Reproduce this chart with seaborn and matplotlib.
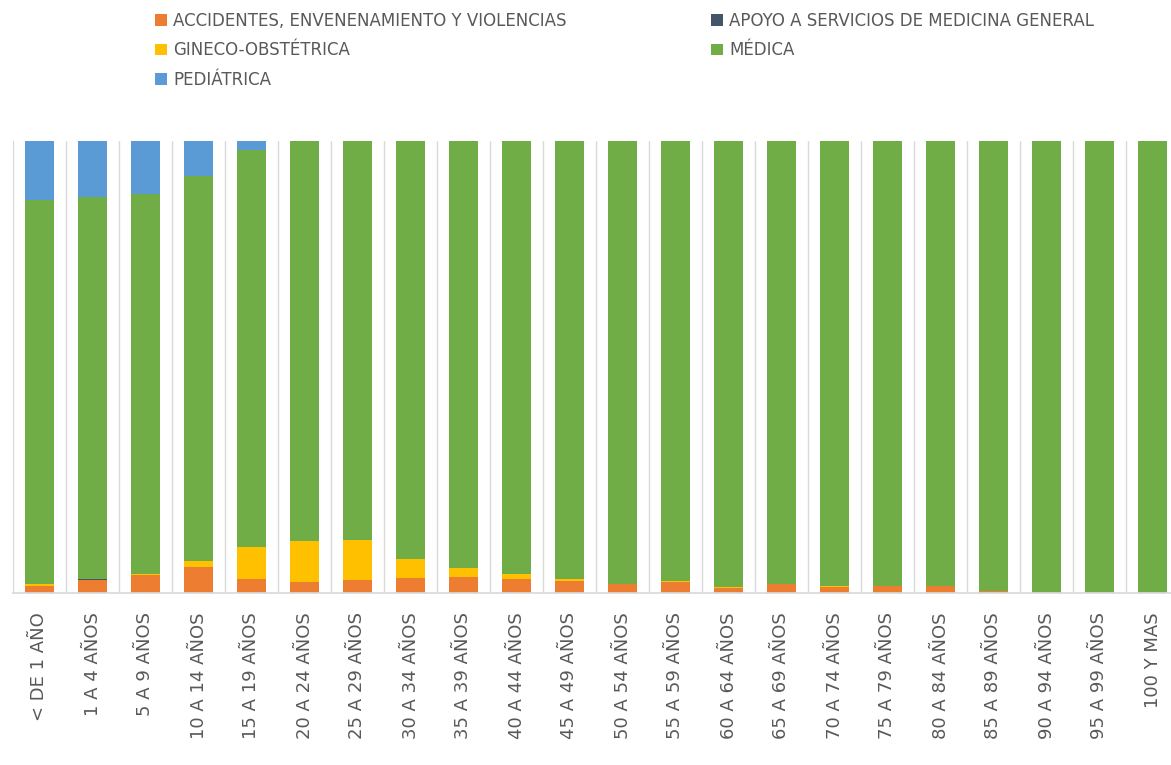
import matplotlib
matplotlib.use("Agg")
import matplotlib.pyplot as plt
import seaborn as sns
import numpy as np
from matplotlib.patches import Patch

categories = ["< DE 1 AÑO", "1 A 4 AÑOS", "5 A 9 AÑOS", "10 A 14 AÑOS", "15 A 19 AÑOS",
              "20 A 24 AÑOS", "25 A 29 AÑOS", "30 A 34 AÑOS", "35 A 39 AÑOS", "40 A 44 AÑOS",
              "45 A 49 AÑOS", "50 A 54 AÑOS", "55 A 59 AÑOS", "60 A 64 AÑOS", "65 A 69 AÑOS",
              "70 A 74 AÑOS", "75 A 79 AÑOS", "80 A 84 AÑOS", "85 A 89 AÑOS", "90 A 94 AÑOS",
              "95 A 99 AÑOS", "100 Y MAS"]

# percentage of discharges by service
accidentes = [1.6, 2.8, 3.9, 5.8, 3.2, 2.4, 2.9, 3.4, 3.5, 3.2, 2.7, 1.9, 2.4, 1.0, 2.1, 1.3, 1.5, 1.5, 0.5, 0, 0, 0]
apoyo = [0, 0.2, 0, 0, 0, 0, 0, 0, 0, 0, 0, 0, 0, 0, 0, 0, 0, 0, 0, 0, 0, 0]
gineco = [0.3, 0, 0.2, 1.3, 7.0, 9.1, 8.8, 4.1, 2.0, 0.9, 0.3, 0.2, 0.2, 0.3, 0, 0.2, 0, 0, 0, 0, 0, 0]
medica = [85.0, 84.5, 84.1, 85.1, 87.7, 88.5, 88.3, 92.5, 94.5, 95.9, 97.0, 97.9, 97.4, 98.7, 97.9,
          98.5, 98.5, 98.5, 99.5, 100, 100, 100]
pediatrica = [13.1, 12.5, 11.8, 7.8, 2.1, 0, 0, 0, 0, 0, 0, 0, 0, 0, 0, 0, 0, 0, 0, 0, 0, 0]

series = ["ACCIDENTES, ENVENENAMIENTO Y VIOLENCIAS", "APOYO A SERVICIOS DE MEDICINA GENERAL",
          "GINECO-OBSTÉTRICA", "MÉDICA", "PEDIÁTRICA"]
colors = ["#ED7D31", "#44546A", "#FFC000", "#70AD47", "#5B9BD5"]
text_gray = "#595959"

sns.set_theme(style="white")
plt.rcParams["font.family"] = ["DejaVu Sans"]

data = np.array([accidentes, apoyo, gineco, medica, pediatrica], dtype=float)
shares = data / data.sum(axis=0) * 100
cum = np.cumsum(shares, axis=0)

fig = plt.figure(figsize=(11.71, 7.65), dpi=100)
ax = fig.add_axes([13 / 1171, 1 - 593 / 765, 1166 / 1171, 452 / 765])

# draw cumulative totals from the top series down so the layers stack
for i in range(len(series) - 1, -1, -1):
    sns.barplot(x=categories, y=cum[i], color=colors[i], width=0.55, ax=ax,
                saturation=1, linewidth=0)

ax.set_ylim(0, 100)
ax.set_xlim(-0.5, len(categories) - 0.5)
ax.set_yticks([])
ax.set_ylabel("")
for b in np.arange(-0.5, len(categories), 1):
    ax.axvline(b, color="#D9D9D9", lw=1, zorder=0)
for s in ["top", "right", "left"]:
    ax.spines[s].set_visible(False)
ax.spines["bottom"].set_color("#D9D9D9")
ax.tick_params(axis="x", length=0, pad=14, labelsize=13, labelcolor=text_gray, rotation=90)

handles = [Patch(facecolor=c, edgecolor="none") for c in colors]
leg_kw = dict(frameon=False, fontsize=12, labelcolor=text_gray, handlelength=0.7,
              handleheight=0.7, handletextpad=0.4, labelspacing=0.68, borderaxespad=0, borderpad=0)
fig.legend([handles[0], handles[2], handles[4]], [series[0], series[2], series[4]],
           loc="upper left", bbox_to_anchor=(155 / 1171, 1 - 12 / 765), **leg_kw)
fig.legend([handles[1], handles[3]], [series[1], series[3]],
           loc="upper left", bbox_to_anchor=(711 / 1171, 1 - 12 / 765), **leg_kw)

fig.savefig("out.png", dpi=100)
